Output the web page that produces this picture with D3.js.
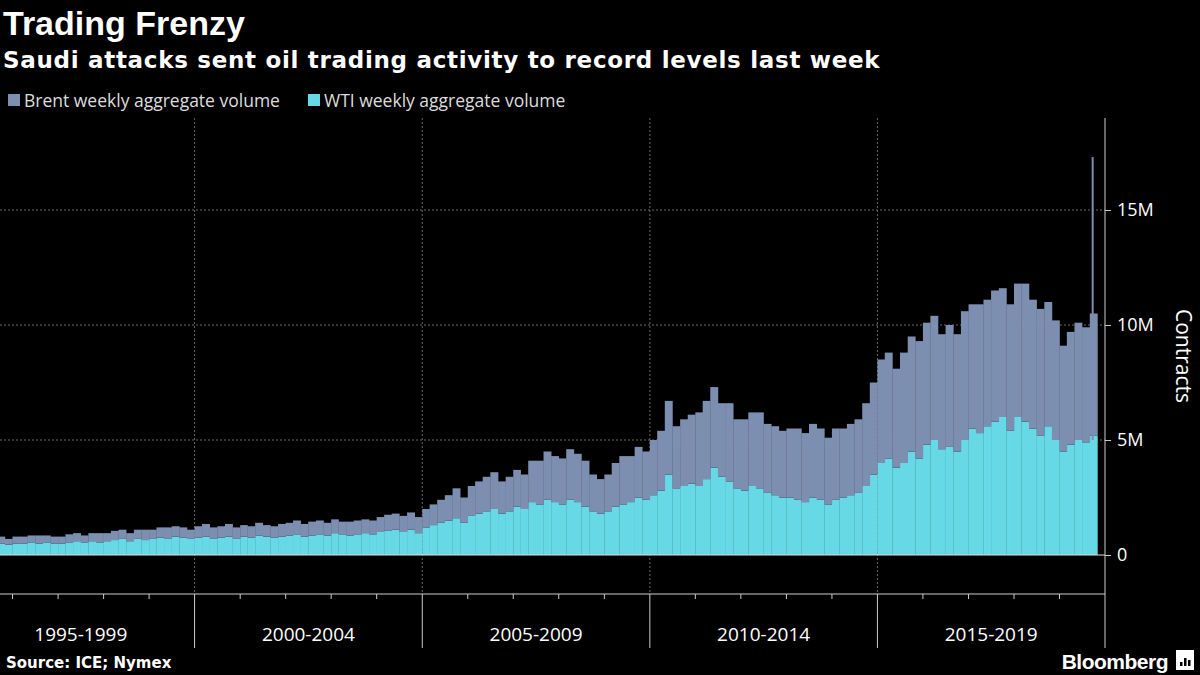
<!DOCTYPE html>
<html>
<head>
<meta charset="utf-8">
<script src="https://cdn.jsdelivr.net/npm/d3@7"></script>
<style>
    body { margin: 0; background: #000; }
    svg { display: block; font-family: "Liberation Sans", Arial, sans-serif; }
</style>
</head>
<body>
<svg width="1200" height="675"></svg>
<script>

/*
*   Data (million contracts, bimonthly readings + final record week)
*/

const periods = [
    '1995-07','1995-09','1995-11',
    '1996-01','1996-03','1996-05','1996-07','1996-09','1996-11',
    '1997-01','1997-03','1997-05','1997-07','1997-09','1997-11',
    '1998-01','1998-03','1998-05','1998-07','1998-09','1998-11',
    '1999-01','1999-03','1999-05','1999-07','1999-09','1999-11',
    '2000-01','2000-03','2000-05','2000-07','2000-09','2000-11',
    '2001-01','2001-03','2001-05','2001-07','2001-09','2001-11',
    '2002-01','2002-03','2002-05','2002-07','2002-09','2002-11',
    '2003-01','2003-03','2003-05','2003-07','2003-09','2003-11',
    '2004-01','2004-03','2004-05','2004-07','2004-09','2004-11',
    '2005-01','2005-03','2005-05','2005-07','2005-09','2005-11',
    '2006-01','2006-03','2006-05','2006-07','2006-09','2006-11',
    '2007-01','2007-03','2007-05','2007-07','2007-09','2007-11',
    '2008-01','2008-03','2008-05','2008-07','2008-09','2008-11',
    '2009-01','2009-03','2009-05','2009-07','2009-09','2009-11',
    '2010-01','2010-03','2010-05','2010-07','2010-09','2010-11',
    '2011-01','2011-03','2011-05','2011-07','2011-09','2011-11',
    '2012-01','2012-03','2012-05','2012-07','2012-09','2012-11',
    '2013-01','2013-03','2013-05','2013-07','2013-09','2013-11',
    '2014-01','2014-03','2014-05','2014-07','2014-09','2014-11',
    '2015-01','2015-03','2015-05','2015-07','2015-09','2015-11',
    '2016-01','2016-03','2016-05','2016-07','2016-09','2016-11',
    '2017-01','2017-03','2017-05','2017-07','2017-09','2017-11',
    '2018-01','2018-03','2018-05','2018-07','2018-09','2018-11',
    '2019-01','2019-03','2019-05','2019-07','2019-09'
]

const wti = [
    .45,.5,.45,
    .5,.5,.55,.5,.55,.5,
    .5,.55,.6,.55,.6,.55,
    .6,.65,.7,.6,.7,.65,
    .7,.75,.7,.8,.75,.7,
    .75,.8,.7,.75,.8,.7,
    .8,.75,.85,.8,.75,.8,
    .85,.9,.8,.85,.9,.85,
    .95,.9,.85,.9,.95,.9,
    1.0,1.05,1.1,1.0,1.1,.95,
    1.2,1.3,1.4,1.5,1.6,1.4,
    1.7,1.8,1.9,2.0,1.8,1.9,
    2.1,2.0,2.3,2.2,2.4,2.3,
    2.2,2.4,2.3,2.1,1.9,1.8,
    1.9,2.1,2.2,2.3,2.5,2.4,
    2.6,2.8,3.5,2.9,3.0,3.1,
    3.0,3.3,3.8,3.4,3.2,2.9,
    2.8,3.0,2.9,2.7,2.6,2.5,
    2.5,2.4,2.3,2.5,2.4,2.2,
    2.4,2.5,2.6,2.7,3.0,3.5,
    4.0,4.2,3.8,4.0,4.5,4.2,
    4.8,5.0,4.6,4.7,4.5,5.0,
    5.5,5.3,5.6,5.8,6.0,5.4,
    6.0,5.8,5.5,5.2,5.6,5.0,
    4.5,4.8,5.0,4.9,5.2
]

const brent = [
    .25,.3,.25,
    .3,.3,.3,.35,.3,.3,
    .3,.35,.35,.3,.35,.4,
    .35,.4,.4,.35,.4,.45,
    .4,.45,.5,.45,.45,.4,
    .5,.55,.5,.5,.55,.5,
    .5,.5,.55,.5,.5,.55,
    .55,.6,.55,.6,.6,.55,
    .6,.55,.6,.6,.6,.6,
    .65,.7,.7,.7,.75,.7,
    .8,.9,1.0,1.1,1.3,1.1,
    1.3,1.4,1.5,1.6,1.4,1.5,
    1.6,1.5,1.8,1.9,2.1,2.0,
    2.0,2.2,2.1,2.0,1.6,1.5,
    1.6,1.9,2.1,2.0,2.2,2.1,
    2.4,2.6,3.2,2.7,2.9,3.0,
    3.2,3.4,3.5,3.2,3.4,3.0,
    3.1,3.2,3.3,3.0,3.0,2.9,
    3.0,3.1,3.0,3.2,3.1,2.9,
    3.1,3.0,3.1,3.2,3.6,4.0,
    4.5,4.6,4.3,4.8,5.0,5.1,
    5.3,5.4,5.0,5.3,5.1,5.6,
    5.4,5.6,5.5,5.7,5.6,5.5,
    5.8,6.0,5.6,5.5,5.4,5.2,
    4.6,4.9,5.1,5.0,5.3
]

const recordWeek = { date: '2019-09-16', wti: 5.0, brent: 12.3 }

const yTicks = [0, 5, 10, 15]
const periodLabels = ['1995-1999', '2000-2004', '2005-2009', '2010-2014', '2015-2019']
const periodStarts = [1995, 2000, 2005, 2010, 2015, 2020]


/*
*   Colors / layout
*/

const COLORS = { brent: '#7d8fb0', wti: '#66d8e6', grid: '#666', text: '#fff' }
const PLOT = { left: 0, right: 1105, top: 118, bottom: 594 }

const svg = d3.select('svg')
const parse = d3.timeParse('%Y-%m')
const parseDay = d3.timeParse('%Y-%m-%d')

const x = d3.scaleTime()
    .domain([new Date(1995, 0, 1), new Date(2020, 0, 1)])
    .range([-33, 1105])
const y = d3.scaleLinear().domain([0, 15]).range([555, 210])

const rows = periods.map((p, i) => ({ d: parse(p), wti: wti[i], brent: brent[i] }))


/*
*   Grid
*/

svg.selectAll('.hgrid').data(yTicks.filter(t => t > 0)).enter().append('line')
    .attr('x1', PLOT.left).attr('x2', PLOT.right)
    .attr('y1', d => y(d)).attr('y2', d => y(d))
    .attr('stroke', COLORS.grid).attr('stroke-dasharray', '2,2')

svg.selectAll('.vgrid').data(periodStarts.slice(1, 5)).enter().append('line')
    .attr('x1', d => x(new Date(d, 0, 1))).attr('x2', d => x(new Date(d, 0, 1)))
    .attr('y1', PLOT.top).attr('y2', PLOT.bottom)
    .attr('stroke', COLORS.grid).attr('stroke-dasharray', '2,2')


/*
*   Bars
*/

const barW = d => x(d3.timeMonth.offset(d, 2)) - x(d) + 0.3

svg.selectAll('.wti').data(rows).enter().append('rect')
    .attr('x', d => x(d.d)).attr('width', d => barW(d.d))
    .attr('y', d => y(d.wti)).attr('height', d => y(0) - y(d.wti))
    .attr('fill', COLORS.wti)

svg.selectAll('.brent').data(rows).enter().append('rect')
    .attr('x', d => x(d.d)).attr('width', d => barW(d.d))
    .attr('y', d => y(d.wti + d.brent)).attr('height', d => y(d.wti) - y(d.wti + d.brent))
    .attr('fill', COLORS.brent)

const rx = x(parseDay(recordWeek.date))
svg.append('rect').attr('x', rx).attr('width', 2)
    .attr('y', y(recordWeek.wti)).attr('height', y(0) - y(recordWeek.wti)).attr('fill', COLORS.wti)
svg.append('rect').attr('x', rx).attr('width', 2)
    .attr('y', y(recordWeek.wti + recordWeek.brent)).attr('height', y(recordWeek.wti) - y(recordWeek.wti + recordWeek.brent))
    .attr('fill', COLORS.brent)

svg.append('line').attr('x1', PLOT.left).attr('x2', PLOT.right)
    .attr('y1', y(0)).attr('y2', y(0)).attr('stroke', '#ddd')


/*
*   Axes
*/

const yAxis = d3.axisRight(y).tickValues(yTicks)
    .tickFormat(d => d === 0 ? '0' : d + 'M').tickSize(6).tickPadding(6)
const gy = svg.append('g').attr('transform', `translate(${PLOT.right},0)`).call(yAxis)
gy.select('.domain').remove()
gy.selectAll('line').attr('stroke', '#ccc')
gy.selectAll('text').attr('fill', COLORS.text).attr('font-size', 18).attr('font-family', '"Open Sans", sans-serif')
svg.append('line').attr('x1', PLOT.right).attr('x2', PLOT.right)
    .attr('y1', PLOT.top).attr('y2', PLOT.bottom).attr('stroke', '#ccc')

svg.append('text').attr('transform', 'translate(1176,356) rotate(90)')
    .attr('text-anchor', 'middle').attr('fill', COLORS.text)
    .attr('font-size', 21).attr('font-family', '"Open Sans", sans-serif').text('Contracts')

svg.append('line').attr('x1', 0).attr('x2', PLOT.right)
    .attr('y1', PLOT.bottom).attr('y2', PLOT.bottom).attr('stroke', '#ccc')

const years = d3.range(1996, 2020).filter(yr => yr % 5 !== 0)
svg.selectAll('.ytick').data(years).enter().append('line')
    .attr('x1', d => x(new Date(d, 0, 1))).attr('x2', d => x(new Date(d, 0, 1)))
    .attr('y1', PLOT.bottom).attr('y2', PLOT.bottom + 5).attr('stroke', '#ccc')

svg.selectAll('.ptick').data(periodStarts.slice(1)).enter().append('line')
    .attr('x1', d => x(new Date(d, 0, 1))).attr('x2', d => x(new Date(d, 0, 1)))
    .attr('y1', PLOT.bottom).attr('y2', 648).attr('stroke', '#ccc')

svg.selectAll('.plabel').data(periodLabels).enter().append('text')
    .attr('x', (d, i) => (x(new Date(periodStarts[i], 0, 1)) + x(new Date(periodStarts[i + 1], 0, 1))) / 2)
    .attr('y', 641).attr('text-anchor', 'middle').attr('fill', COLORS.text)
    .attr('font-size', 19).attr('font-family', '"Open Sans", sans-serif').text(d => d)


/*
*   Titles, legend, footer
*/

svg.append('text').attr('x', 3).attr('y', 35).attr('fill', COLORS.text)
    .attr('font-size', 34).attr('font-weight', 'bold').text('Trading Frenzy')
svg.append('text').attr('x', 3).attr('y', 68).attr('fill', COLORS.text)
    .attr('font-size', 23).attr('font-weight', 'bold').attr('letter-spacing', 0.7)
    .attr('font-family', '"DejaVu Sans", sans-serif')
    .text('Saudi attacks sent oil trading activity to record levels last week')

const legend = [
    { label: 'Brent weekly aggregate volume', color: COLORS.brent, x: 8 },
    { label: 'WTI weekly aggregate volume', color: COLORS.wti, x: 308 }
]
const lg = svg.selectAll('.lg').data(legend).enter().append('g')
    .attr('transform', d => `translate(${d.x},94)`)
lg.append('rect').attr('width', 12).attr('height', 12).attr('fill', d => d.color)
lg.append('text').attr('x', 16).attr('y', 13).attr('fill', '#ddd')
    .attr('font-size', 17.5).attr('font-family', '"Open Sans", sans-serif').text(d => d.label)

svg.append('text').attr('x', 6).attr('y', 668).attr('fill', COLORS.text)
    .attr('font-size', 15).attr('font-weight', 'bold')
    .attr('font-family', '"DejaVu Sans", sans-serif').text('Source: ICE; Nymex')

svg.append('text').attr('x', 1168).attr('y', 669).attr('text-anchor', 'end')
    .attr('fill', COLORS.text).attr('font-size', 21).attr('font-weight', 'bold')
    .attr('letter-spacing', -0.5).text('Bloomberg')
svg.append('rect').attr('x', 1176).attr('y', 650).attr('width', 18).attr('height', 20).attr('fill', '#fff')
svg.selectAll('.logo').data([[1180, 4], [1184, 8], [1188, 6]]).enter().append('rect')
    .attr('x', d => d[0]).attr('y', d => 666 - d[1]).attr('width', 2.5).attr('height', d => d[1]).attr('fill', '#000')

</script>
</body>
</html>
